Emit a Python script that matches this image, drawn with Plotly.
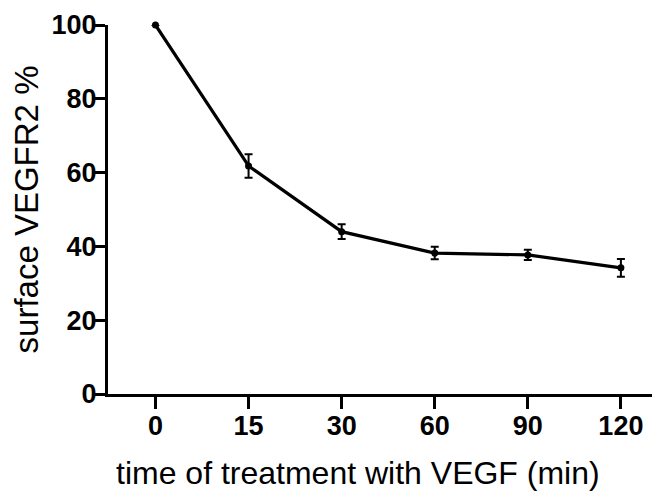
import plotly.graph_objects as go

time_labels = ["0", "15", "30", "60", "90", "120"]
surface_pct = [100.0, 61.8, 44.0, 38.2, 37.7, 34.2]
sem = [0.0, 3.2, 2.0, 1.7, 1.4, 2.4]

FONT = "Liberation Sans, Arial, sans-serif"

fig = go.Figure()
fig.add_trace(go.Scatter(
    x=time_labels, y=surface_pct,
    mode="lines+markers",
    line=dict(color="black", width=3.2),
    marker=dict(color="black", size=7),
    error_y=dict(type="data", array=sem, visible=True, color="black", thickness=2, width=4),
    cliponaxis=False,
    showlegend=False,
))

# page body has an 8px default margin; size the figure to compensate
fig.update_layout(
    width=652, height=484,
    margin=dict(l=100, r=0, t=17, b=98),
    plot_bgcolor="white", paper_bgcolor="white",
    font=dict(family=FONT, color="black"),
)
fig.update_xaxes(
    type="category", range=[-0.51, 5.42], automargin=False,
    showline=True, linecolor="black", linewidth=3,
    ticks="outside", ticklen=12, tickwidth=3, tickcolor="black",
    showgrid=False, zeroline=False, ticklabelstandoff=-6,
    tickfont=dict(size=27, family=FONT, weight="bold"),
)
fig.update_yaxes(
    range=[0, 100], tickvals=[0, 20, 40, 60, 80, 100], automargin=False,
    showline=True, linecolor="black", linewidth=3,
    ticks="outside", ticklen=10, tickwidth=3, tickcolor="black",
    showgrid=False, zeroline=False, ticklabelstandoff=-7,
    tickfont=dict(size=27, family=FONT, weight="bold"),
    title=dict(text="surface VEGFR2 %", font=dict(size=33, family=FONT), standoff=8),
)
fig.add_annotation(
    text="time of treatment with VEGF (min)",
    xref="paper", yref="paper", x=0.453, y=0,
    xanchor="center", yanchor="middle", yshift=-79,
    showarrow=False, font=dict(size=32, family=FONT, color="black"),
)
fig.write_html("out.html")
